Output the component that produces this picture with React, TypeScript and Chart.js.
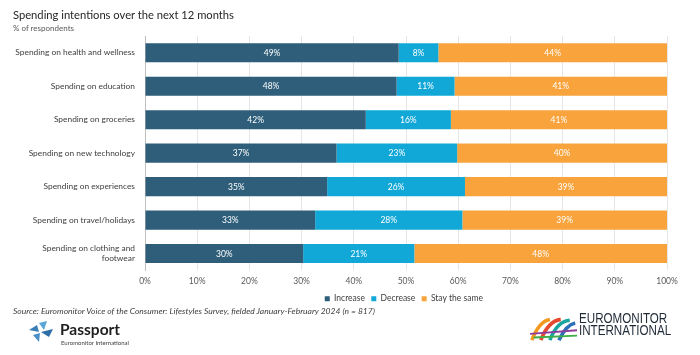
import React, { useEffect, useRef } from "react";
import { Chart, registerables } from "chart.js";

Chart.register(...registerables);

const categories = [
  "Spending on health and wellness",
  "Spending on education",
  "Spending on groceries",
  "Spending on new technology",
  "Spending on experiences",
  "Spending on travel/holidays",
  ["Spending on clothing and", "footwear"],
];
const increase = [48.6, 48.2, 42.3, 36.7, 34.9, 32.6, 30.3];
const decrease = [7.6, 11.1, 16.3, 23.1, 26.4, 28.2, 21.3];
const staySame = [43.8, 40.7, 41.4, 40.2, 38.7, 39.2, 48.4];
const seriesNames = ["Increase", "Decrease", "Stay the same"];
const seriesColors = ["#2E5E7A", "#11A8D8", "#F8A33C"];
const xTicks = [0, 10, 20, 30, 40, 50, 60, 70, 80, 90, 100];

const FONT = "Lato, 'Open Sans', sans-serif";

const barLabels = {
  id: "barLabels",
  afterDatasetsDraw(chart: any) {
    const ctx = chart.ctx;
    ctx.save();
    ctx.fillStyle = "#ffffff";
    ctx.font = `8.5px ${FONT}`;
    ctx.textAlign = "center";
    ctx.textBaseline = "middle";
    chart.data.datasets.forEach((ds: any, di: number) => {
      const meta = chart.getDatasetMeta(di);
      meta.data.forEach((bar: any, i: number) => {
        const v = ds.data[i];
        const x = (bar.x + bar.base) / 2;
        ctx.fillText(Math.round(v) + "%", x, bar.y + 0.5);
      });
    });
    ctx.restore();
  },
};

export default function App() {
  const ref = useRef<HTMLCanvasElement>(null);
  useEffect(() => {
    document.body.style.margin = "0";
    const chart = new Chart(ref.current!, {
      type: "bar",
      data: {
        labels: categories as any,
        datasets: [increase, decrease, staySame].map((d, i) => ({
          label: seriesNames[i],
          data: d,
          backgroundColor: seriesColors[i],
          borderWidth: 0,
          barPercentage: 0.57,
          categoryPercentage: 1,
        })),
      },
      options: {
        indexAxis: "y",
        animation: false,
        responsive: false,
        maintainAspectRatio: false,
        layout: { padding: { left: 10, right: 33, top: 36, bottom: 0 } },
        scales: {
          x: {
            stacked: true,
            min: 0,
            max: 100,
            afterBuildTicks: (s: any) => {
              s.ticks = xTicks.map((v) => ({ value: v }));
            },
            grid: { color: "#E6E6E6", drawTicks: false },
            border: { display: false },
            ticks: {
              color: "#595959",
              font: { family: FONT, size: 8.5 },
              padding: 6,
              callback: (v: any) => v + "%",
            },
          },
          y: {
            stacked: true,
            grid: { display: false, drawTicks: false },
            border: { display: true, color: "#BFBFBF" },
            afterFit: (s: any) => {
              s.width = 135;
              s.paddingTop = 0;
              s.paddingBottom = 0;
            },
            ticks: {
              color: "#404040",
              font: { family: FONT, size: 8.4 },
              padding: 10,
            },
          },
        },
        plugins: {
          legend: {
            position: "bottom",
            fullSize: false,
            labels: {
              boxWidth: 5,
              boxHeight: 5,
              padding: 2,
              color: "#404040",
              font: { family: FONT, size: 8.5 },
              generateLabels: (chart: any) =>
                Chart.defaults.plugins.legend.labels.generateLabels(chart).map((l: any) => ({ ...l, text: l.text + "  " })),
            },
          },
          tooltip: { enabled: false },
        },
      },
      plugins: [barLabels],
    });
    return () => chart.destroy();
  }, []);

  return (
    <div style={{ position: "relative", width: 700, height: 355, background: "#fff", overflow: "hidden", fontFamily: FONT }}>
      <canvas ref={ref} width={700} height={313} style={{ position: "absolute", left: 0, top: 0, width: 700, height: 313 }} />
      <div style={{ position: "absolute", left: 13, top: 8, fontSize: 11.2, color: "#262626", whiteSpace: "nowrap" }}>
        Spending intentions over the next 12 months
      </div>
      <div style={{ position: "absolute", left: 13, top: 23, fontSize: 8, color: "#595959", whiteSpace: "nowrap" }}>
        % of respondents
      </div>
      <div style={{ position: "absolute", left: 13, top: 306, fontSize: 8.5, color: "#404040", fontStyle: "italic", whiteSpace: "nowrap" }}>
        Source: Euromonitor Voice of the Consumer: Lifestyles Survey, fielded January-February 2024 (n = 817)
      </div>
      {/* Passport logo */}
      <svg style={{ position: "absolute", left: 27, top: 321 }} width="28" height="22" viewBox="0 0 28 22">
        <polygon points="2,9 10,4 12,11" fill="#3A7FB8" />
        <polygon points="12,2 20,0 17,9" fill="#5AA6D8" />
        <polygon points="14,11 26,8 22,16" fill="#2E6FA8" />
        <polygon points="6,14 13,12 12,21" fill="#4A90C8" />
      </svg>
      <div style={{ position: "absolute", left: 60, top: 320, fontSize: 15.5, fontWeight: 700, color: "#1F1F1F", whiteSpace: "nowrap", fontFamily: FONT }}>
        Passport
      </div>
      <div style={{ position: "absolute", left: 61, top: 339, fontSize: 6, color: "#404040", whiteSpace: "nowrap" }}>
        Euromonitor International
      </div>
      {/* Euromonitor logo */}
      <svg style={{ position: "absolute", left: 530, top: 315 }} width="47" height="26" viewBox="0 0 52 27">
        <path d="M2 27 Q10 6 22 4" stroke="#F39A1E" strokeWidth="4" fill="none" />
        <path d="M12 27 Q20 6 34 4" stroke="#E64A2E" strokeWidth="4" fill="none" />
        <path d="M22 27 Q30 6 44 5" stroke="#1AA6A0" strokeWidth="4" fill="none" />
        <path d="M32 27 Q40 10 50 8" stroke="#2A6FB8" strokeWidth="4" fill="none" />
        <path d="M0 20 L52 16" stroke="#8E3B9E" strokeWidth="2" fill="none" />
        <path d="M4 24 L52 22" stroke="#3FAE49" strokeWidth="2" fill="none" />
      </svg>
      <div style={{ position: "absolute", left: 579, top: 312, fontSize: 14, lineHeight: "12px", color: "#1F2A36", whiteSpace: "nowrap", fontFamily: "'Liberation Sans', Arial, sans-serif", transform: "scaleX(0.83)", transformOrigin: "left top", fontWeight: 500 }}>
        <div style={{ height: 12 }}>EUROMONITOR</div>
        <div style={{ height: 12 }}>INTERNATIONAL</div>
      </div>
    </div>
  );
}
